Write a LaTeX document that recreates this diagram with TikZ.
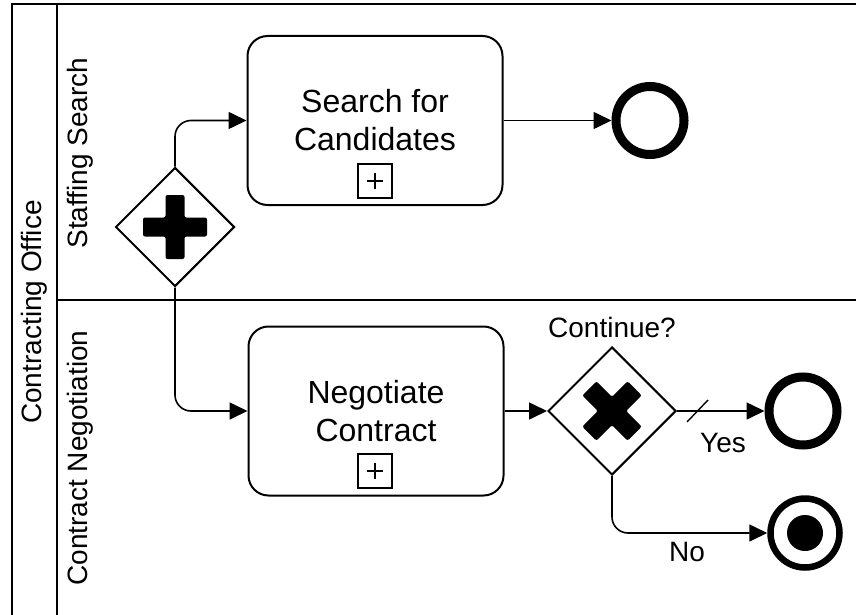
\documentclass[tikz,border=0pt]{standalone}
\usepackage{fontspec}
\setmainfont{Liberation Sans}
\usetikzlibrary{shapes.geometric,arrows.meta,calc}

\begin{document}
\begin{tikzpicture}[x=1pt,y=-1pt,
  pool/.style={line width=1.5pt},
  lane/.style={line width=1.2pt},
  lanelabel/.style={rotate=90,font=\fontsize{28}{33}\selectfont,inner sep=0pt},
  task/.style={draw,line width=2pt,rounded corners=20pt,minimum width=255pt,
    minimum height=169pt,align=center,font=\fontsize{32}{38}\selectfont},
  submarker/.style={draw,line width=1.5pt,minimum size=34pt,inner sep=0pt},
  gateway/.style={draw,diamond,line width=2pt,inner sep=0pt,aspect=1,fill=white},
  endevent/.style={draw,circle,line width=9pt,minimum size=68pt,inner sep=0pt},
  termevent/.style={draw,circle,line width=6.5pt,minimum size=69pt,inner sep=0pt},
  flow/.style={line width=1.6pt,-{Triangle[length=18pt,width=17pt]},rounded corners=16pt},
  flowlabel/.style={font=\fontsize{28}{33}\selectfont,inner sep=0pt},
  gatemark/.style={fill=black,rounded corners=2pt},
]
\useasboundingbox (0,0) rectangle (856,615);
\fill[white] (0,0) rectangle (856,615);

% pool and lanes
\draw[pool] (856,4) -- (12,4) -- (12,615);
\draw[lane] (57,4) -- (57,615);
\draw[lane] (57,300) -- (856,300);
\node[lanelabel] (pool) at (34,312) {Contracting Office};
\node[lanelabel] (lane1) at (80,153) {Staffing Search};
\node[lanelabel] (lane2) at (80,458) {Contract Negotiation};

% gateways
\node[gateway,minimum size=119pt] (g1) at (175,227) {};
\node[gateway,minimum size=128pt] (g2) at (612,411) {};
\begin{scope}[shift={(g1.center)}]
  \fill[gatemark] (-9.5,-32) -- (9.5,-32) -- (9.5,-9.5) -- (32,-9.5) -- (32,9.5)
    -- (9.5,9.5) -- (9.5,32) -- (-9.5,32) -- (-9.5,9.5) -- (-32,9.5) -- (-32,-9.5)
    -- (-9.5,-9.5) -- cycle;
\end{scope}
\begin{scope}[shift={(g2.center)},rotate=45]
  \fill[gatemark] (-10,-32) -- (10,-32) -- (10,-10) -- (32,-10) -- (32,10)
    -- (10,10) -- (10,32) -- (-10,32) -- (-10,10) -- (-32,10) -- (-32,-10)
    -- (-10,-10) -- cycle;
\end{scope}
\node[flowlabel] (lcont) at (612,327) {Continue?};

% sub-process tasks
\node[task] (t1) at (375,120.5) {Search for\\Candidates};
\node[task] (t2) at (376,411) {Negotiate\\Contract};
\node[submarker] (m1) at (375,181) {};
\node[submarker] (m2) at (375,471) {};
\draw[line width=1.4pt] (m1.center) +(-8,0) -- +(8,0) (m1.center) +(0,-8) -- +(0,8);
\draw[line width=1.4pt] (m2.center) +(-8,0) -- +(8,0) (m2.center) +(0,-8) -- +(0,8);

% end events
\node[endevent] (e1) at (650,120.5) {};
\node[endevent] (e2) at (803,411) {};
\node[termevent] (e3) at (805,533) {};
\node[circle,fill=black,minimum size=36pt,inner sep=0pt] (e3dot) at (e3.center) {};

% sequence flows
\draw[flow] (g1.north) |- (t1.west);
\draw[flow] (t1.east) -- (e1.west);
\draw[flow] (g1.south) |- (t2.west);
\draw[flow] (t2.east) -- (g2.west);
\draw[flow] (g2.east) -- (e2.west);
\draw[flow] (g2.south) |- (e3.west);
\draw[line width=1.4pt] ($(g2.east)+(10,11)$) -- ($(g2.east)+(31,-11)$);
\node[flowlabel] (lyes) at (723,443) {Yes};
\node[flowlabel] (lno) at (687,552) {No};
\end{tikzpicture}
\end{document}
